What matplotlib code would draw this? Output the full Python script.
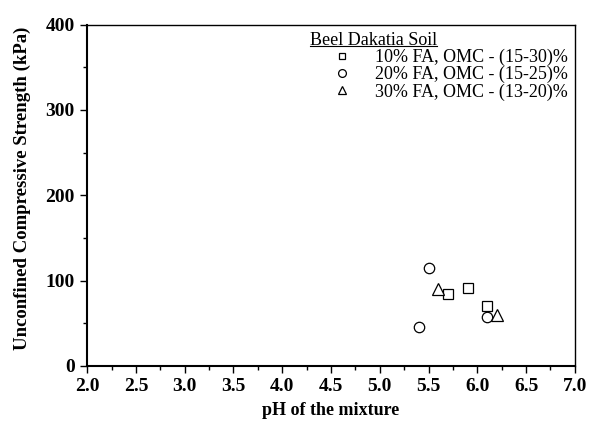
import numpy as np
import matplotlib
matplotlib.use("Agg")
import matplotlib.pyplot as plt
from matplotlib.lines import Line2D

plt.rcParams['font.family'] = ['Liberation Serif', 'DejaVu Serif']

# UCS vs pH for the three fly ash contents
ph_10 = [5.7, 5.9, 6.1]
ucs_10 = [84, 91, 70]
ph_20 = [5.4, 5.5, 6.1]
ucs_20 = [46, 115, 57]
ph_30 = [5.6, 6.2]
ucs_30 = [90, 60]

labels = ['10% FA, OMC - (15-30)%', '20% FA, OMC - (15-25)%', '30% FA, OMC - (13-20)%']
legend_title = 'Beel Dakatia Soil'

fig = plt.figure(figsize=(5.89, 4.25), dpi=100)
ax = fig.add_axes([0.148, 0.139, 0.828, 0.803])

ax.plot(ph_10, ucs_10, ls='none', marker='s', ms=6.5, mfc='white', mec='black', mew=0.9, label=labels[0])
ax.plot(ph_20, ucs_20, ls='none', marker='o', ms=7.5, mfc='white', mec='black', mew=0.9, label=labels[1])
ax.plot(ph_30, ucs_30, ls='none', marker='^', ms=8.5, mfc='white', mec='black', mew=0.9, label=labels[2])

ax.set_xlim(2.0, 7.0)
ax.set_ylim(0, 400)
ax.set_xticks(np.arange(2.0, 7.01, 0.5))
ax.set_xticks(np.arange(2.25, 7.0, 0.5), minor=True)
ax.set_yticks(np.arange(0, 401, 100))
ax.set_yticks(np.arange(50, 400, 100), minor=True)
ax.set_xticklabels(['%.1f' % v for v in np.arange(2.0, 7.01, 0.5)])
ax.tick_params(which='major', direction='out', length=5, width=1.0, labelsize=14, pad=4)
ax.tick_params(which='minor', direction='out', length=3, width=1.0)
for lab in ax.get_xticklabels() + ax.get_yticklabels():
    lab.set_fontweight('bold')

for s in ['left', 'bottom']:
    ax.spines[s].set_linewidth(1.5)
for s in ['top', 'right']:
    ax.spines[s].set_linewidth(1.0)

ax.set_xlabel('pH of the mixture', fontsize=13, fontweight='bold', labelpad=5)
ax.set_ylabel('Unconfined Compressive Strength (kPa)', fontsize=13.5, fontweight='bold')
ax.yaxis.set_label_coords(-0.115, 0.52)

leg = ax.legend(title=legend_title, loc='upper right', frameon=False, fontsize=13,
                title_fontsize=13, alignment='left', borderaxespad=0.1, borderpad=0.3,
                handletextpad=0.0, labelspacing=0.0, handlelength=3.6, markerscale=0.75)

# underline the legend title
fig.canvas.draw()
bb = leg.get_title().get_window_extent().transformed(fig.transFigure.inverted())
fig.add_artist(Line2D([bb.x0, bb.x1], [bb.y0 + 0.006, bb.y0 + 0.006], color='black', lw=0.8,
                      transform=fig.transFigure))

fig.savefig('out.png', dpi=100)
